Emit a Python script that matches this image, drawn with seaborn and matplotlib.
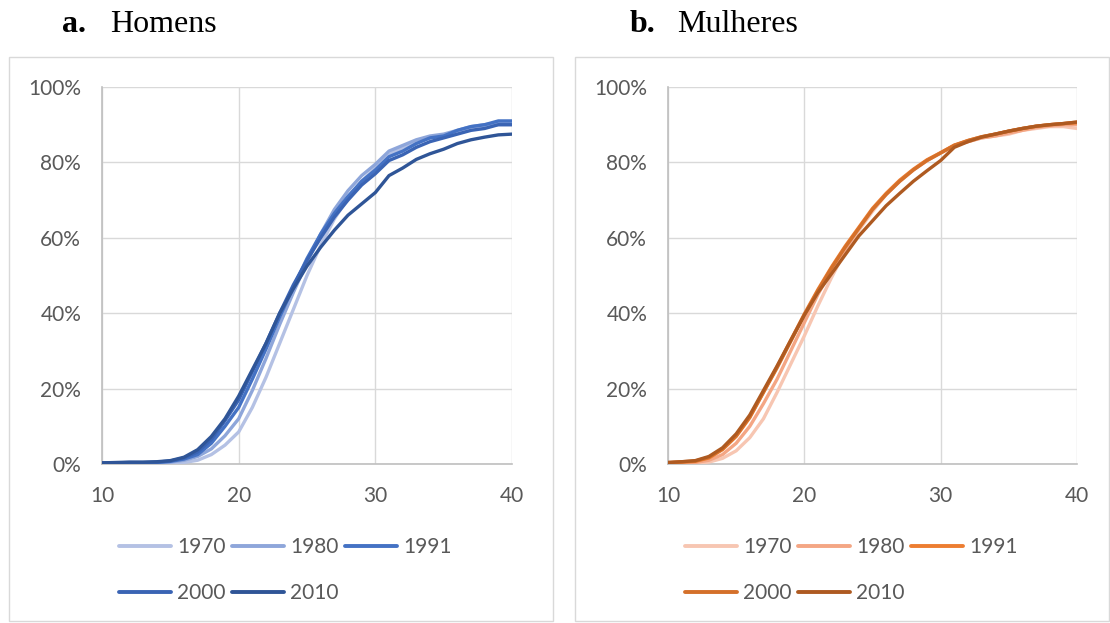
import numpy as np
import pandas as pd
import seaborn as sns
import matplotlib
matplotlib.use("Agg")
import matplotlib.pyplot as plt
from matplotlib.lines import Line2D
from matplotlib.patches import Rectangle
from matplotlib.ticker import FuncFormatter

# Cumulative share by age (%), ages 10..40
ages = list(range(10, 41))
years = ["1970", "1980", "1991", "2000", "2010"]

homens_1970 = [0.0, 0.0, 0.0, 0.1, 0.1, 0.2, 0.4, 1.0, 2.5, 5.0, 8.5, 15.0, 23.0, 32.0, 41.0, 50.0,
               58.0, 65.0, 70.5, 75.0, 78.5, 82.0, 84.0, 85.5, 86.5, 87.0, 88.0, 89.0, 89.5, 90.0, 90.0]
homens_1980 = [0.1, 0.1, 0.1, 0.2, 0.3, 0.5, 1.0, 2.0, 4.0, 7.5, 12.0, 19.5, 28.0, 37.0, 45.5, 53.5,
               61.0, 67.5, 72.5, 76.5, 79.5, 83.0, 84.5, 86.0, 87.0, 87.5, 88.5, 89.5, 90.0, 90.5, 90.5]
homens_1991 = [0.2, 0.2, 0.3, 0.3, 0.4, 0.7, 1.3, 2.5, 5.5, 10.0, 15.0, 22.5, 30.5, 39.0, 47.0, 54.5,
               61.0, 66.5, 71.0, 75.0, 78.0, 81.5, 83.0, 85.0, 86.5, 87.0, 88.5, 89.5, 90.0, 91.0, 91.0]
homens_2000 = [0.3, 0.3, 0.4, 0.4, 0.5, 0.8, 1.6, 3.2, 6.5, 11.5, 17.0, 24.5, 32.0, 40.0, 47.5, 54.0,
               60.0, 65.5, 70.0, 74.0, 77.0, 80.5, 82.0, 84.0, 85.5, 86.5, 87.5, 88.5, 89.0, 90.0, 90.0]
homens_2010 = [0.3, 0.4, 0.5, 0.5, 0.6, 0.9, 1.8, 3.8, 7.3, 12.0, 18.0, 25.0, 32.0, 40.0, 46.5, 52.5,
               57.5, 62.0, 66.0, 69.0, 72.0, 76.5, 78.5, 80.8, 82.3, 83.5, 85.0, 86.0, 86.7, 87.3, 87.5]

mulheres_1970 = [0.0, 0.1, 0.2, 0.5, 1.5, 3.5, 7.0, 12.0, 19.0, 26.5, 34.0, 42.0, 49.5, 56.5, 62.0, 67.0,
                 71.5, 75.0, 78.0, 80.5, 82.5, 84.5, 85.5, 86.5, 87.0, 87.5, 88.5, 89.0, 89.5, 89.5, 89.0]
mulheres_1980 = [0.1, 0.2, 0.4, 1.0, 2.5, 5.5, 10.0, 16.0, 22.5, 30.0, 37.5, 45.0, 51.5, 57.0, 62.5, 67.5,
                 71.5, 75.0, 78.0, 80.5, 82.5, 84.5, 85.5, 86.5, 87.0, 87.8, 88.5, 89.3, 89.7, 90.0, 90.0]
mulheres_1991 = [0.3, 0.5, 0.7, 1.6, 3.8, 7.3, 12.3, 19.0, 25.8, 32.8, 39.8, 46.3, 52.3, 57.8, 62.8, 67.8,
                 71.8, 75.3, 78.2, 80.7, 82.6, 84.6, 85.8, 86.8, 87.5, 88.3, 89.0, 89.6, 90.0, 90.3, 90.5]
mulheres_2000 = [0.4, 0.6, 0.8, 1.8, 4.0, 7.5, 12.5, 19.0, 25.5, 32.5, 39.5, 46.0, 52.0, 57.5, 62.5, 67.5,
                 71.5, 75.0, 78.0, 80.5, 82.5, 84.5, 85.8, 86.8, 87.5, 88.3, 89.0, 89.6, 90.0, 90.3, 90.7]
mulheres_2010 = [0.4, 0.6, 0.9, 2.0, 4.3, 8.0, 13.0, 19.5, 26.0, 32.8, 39.5, 45.5, 50.5, 55.5, 60.5, 64.5,
                 68.5, 71.8, 75.0, 77.8, 80.5, 84.0, 85.5, 86.7, 87.5, 88.3, 89.0, 89.6, 90.0, 90.3, 90.7]

x_ticks = [10, 20, 30, 40]
y_ticks = [0, 20, 40, 60, 80, 100]

cores_homens = ["#B4C1E4", "#8EA6DA", "#4472C4", "#3A64B4", "#2F5597"]
cores_mulheres = ["#F7C6B2", "#F4A684", "#ED7D31", "#D4702A", "#AE5A21"]


def long_frame(series):
    rows = []
    for year, vals in zip(years, series):
        for a, v in zip(ages, vals):
            rows.append({"idade": a, "ano": year, "valor": v})
    return pd.DataFrame(rows)


df_h = long_frame([homens_1970, homens_1980, homens_1991, homens_2000, homens_2010])
df_m = long_frame([mulheres_1970, mulheres_1980, mulheres_1991, mulheres_2000, mulheres_2010])

sns.set_theme(style="white")
plt.rcParams["font.family"] = ["Lato", "DejaVu Sans"]

W, H = 1110, 623
fig = plt.figure(figsize=(W / 100, H / 100), dpi=100)


def px_axes(x0, x1, y0, y1):
    return fig.add_axes([x0 / W, (H - y1) / H, (x1 - x0) / W, (y1 - y0) / H])


# Panel frames
for bx0, bx1 in [(9, 553), (575, 1109)]:
    fig.patches.append(Rectangle((bx0 / W, (H - 621) / H), (bx1 - bx0) / W, (621 - 57) / H,
                                 transform=fig.transFigure, facecolor="none",
                                 edgecolor="#D9D9D9", linewidth=1.0, zorder=-1))

ax_h = px_axes(102, 512, 87, 464)
ax_m = px_axes(668, 1077, 87, 464)

text_col = "#595959"
for ax, df, cores in [(ax_h, df_h, cores_homens), (ax_m, df_m, cores_mulheres)]:
    ax.set_facecolor("none")
    sns.lineplot(data=df, x="idade", y="valor", hue="ano", hue_order=years,
                 palette=dict(zip(years, cores)), linewidth=2.4, legend=False, ax=ax,
                 zorder=3)
    for ln in ax.get_lines():
        ln.set_solid_joinstyle("round")
        ln.set_solid_capstyle("round")
    ax.set_xlim(10, 40)
    ax.set_ylim(0, 100)
    ax.set_xticks(x_ticks)
    ax.set_yticks(y_ticks)
    ax.yaxis.set_major_formatter(FuncFormatter(lambda v, p: f"{int(v)}%"))
    ax.grid(True, color="#D9D9D9", linewidth=1.0, zorder=0)
    ax.set_axisbelow(True)
    for side in ["top", "right"]:
        ax.spines[side].set_visible(False)
    for side in ["left", "bottom"]:
        ax.spines[side].set_color("#BFBFBF")
        ax.spines[side].set_linewidth(1.2)
    ax.tick_params(axis="both", length=0, labelsize=15, colors=text_col)
    ax.tick_params(axis="x", pad=16)
    ax.tick_params(axis="y", pad=15)
    ax.set_xlabel("")
    ax.set_ylabel("")

    # Legend laid out row-wise: 1970 1980 1991 / 2000 2010
    handles = [Line2D([0], [0], color=c, linewidth=2.8, solid_capstyle="round") for c in cores]
    order = [0, 3, 1, 4, 2]
    bb = ax.get_position()
    fig.legend([handles[i] for i in order], [years[i] for i in order],
               loc="upper left", bbox_to_anchor=(bb.x0 + 17 / W, (H - 537) / H),
               ncol=3, frameon=False, fontsize=15, labelcolor=text_col,
               handlelength=2.5, handletextpad=0.3, columnspacing=0.3,
               labelspacing=1.25, borderaxespad=0, borderpad=0)

# Panel titles
serif = ["Liberation Serif", "DejaVu Serif"]
fig.text(62 / W, (H - 32) / H, "a.", fontsize=23, fontweight="bold", family=serif, color="black")
fig.text(110 / W, (H - 32) / H, "Homens", fontsize=23, family=serif, color="black")
fig.text(630 / W, (H - 32) / H, "b.", fontsize=23, fontweight="bold", family=serif, color="black")
fig.text(677 / W, (H - 32) / H, "Mulheres", fontsize=23, family=serif, color="black")

fig.savefig("out.png", dpi=100, facecolor="white")
